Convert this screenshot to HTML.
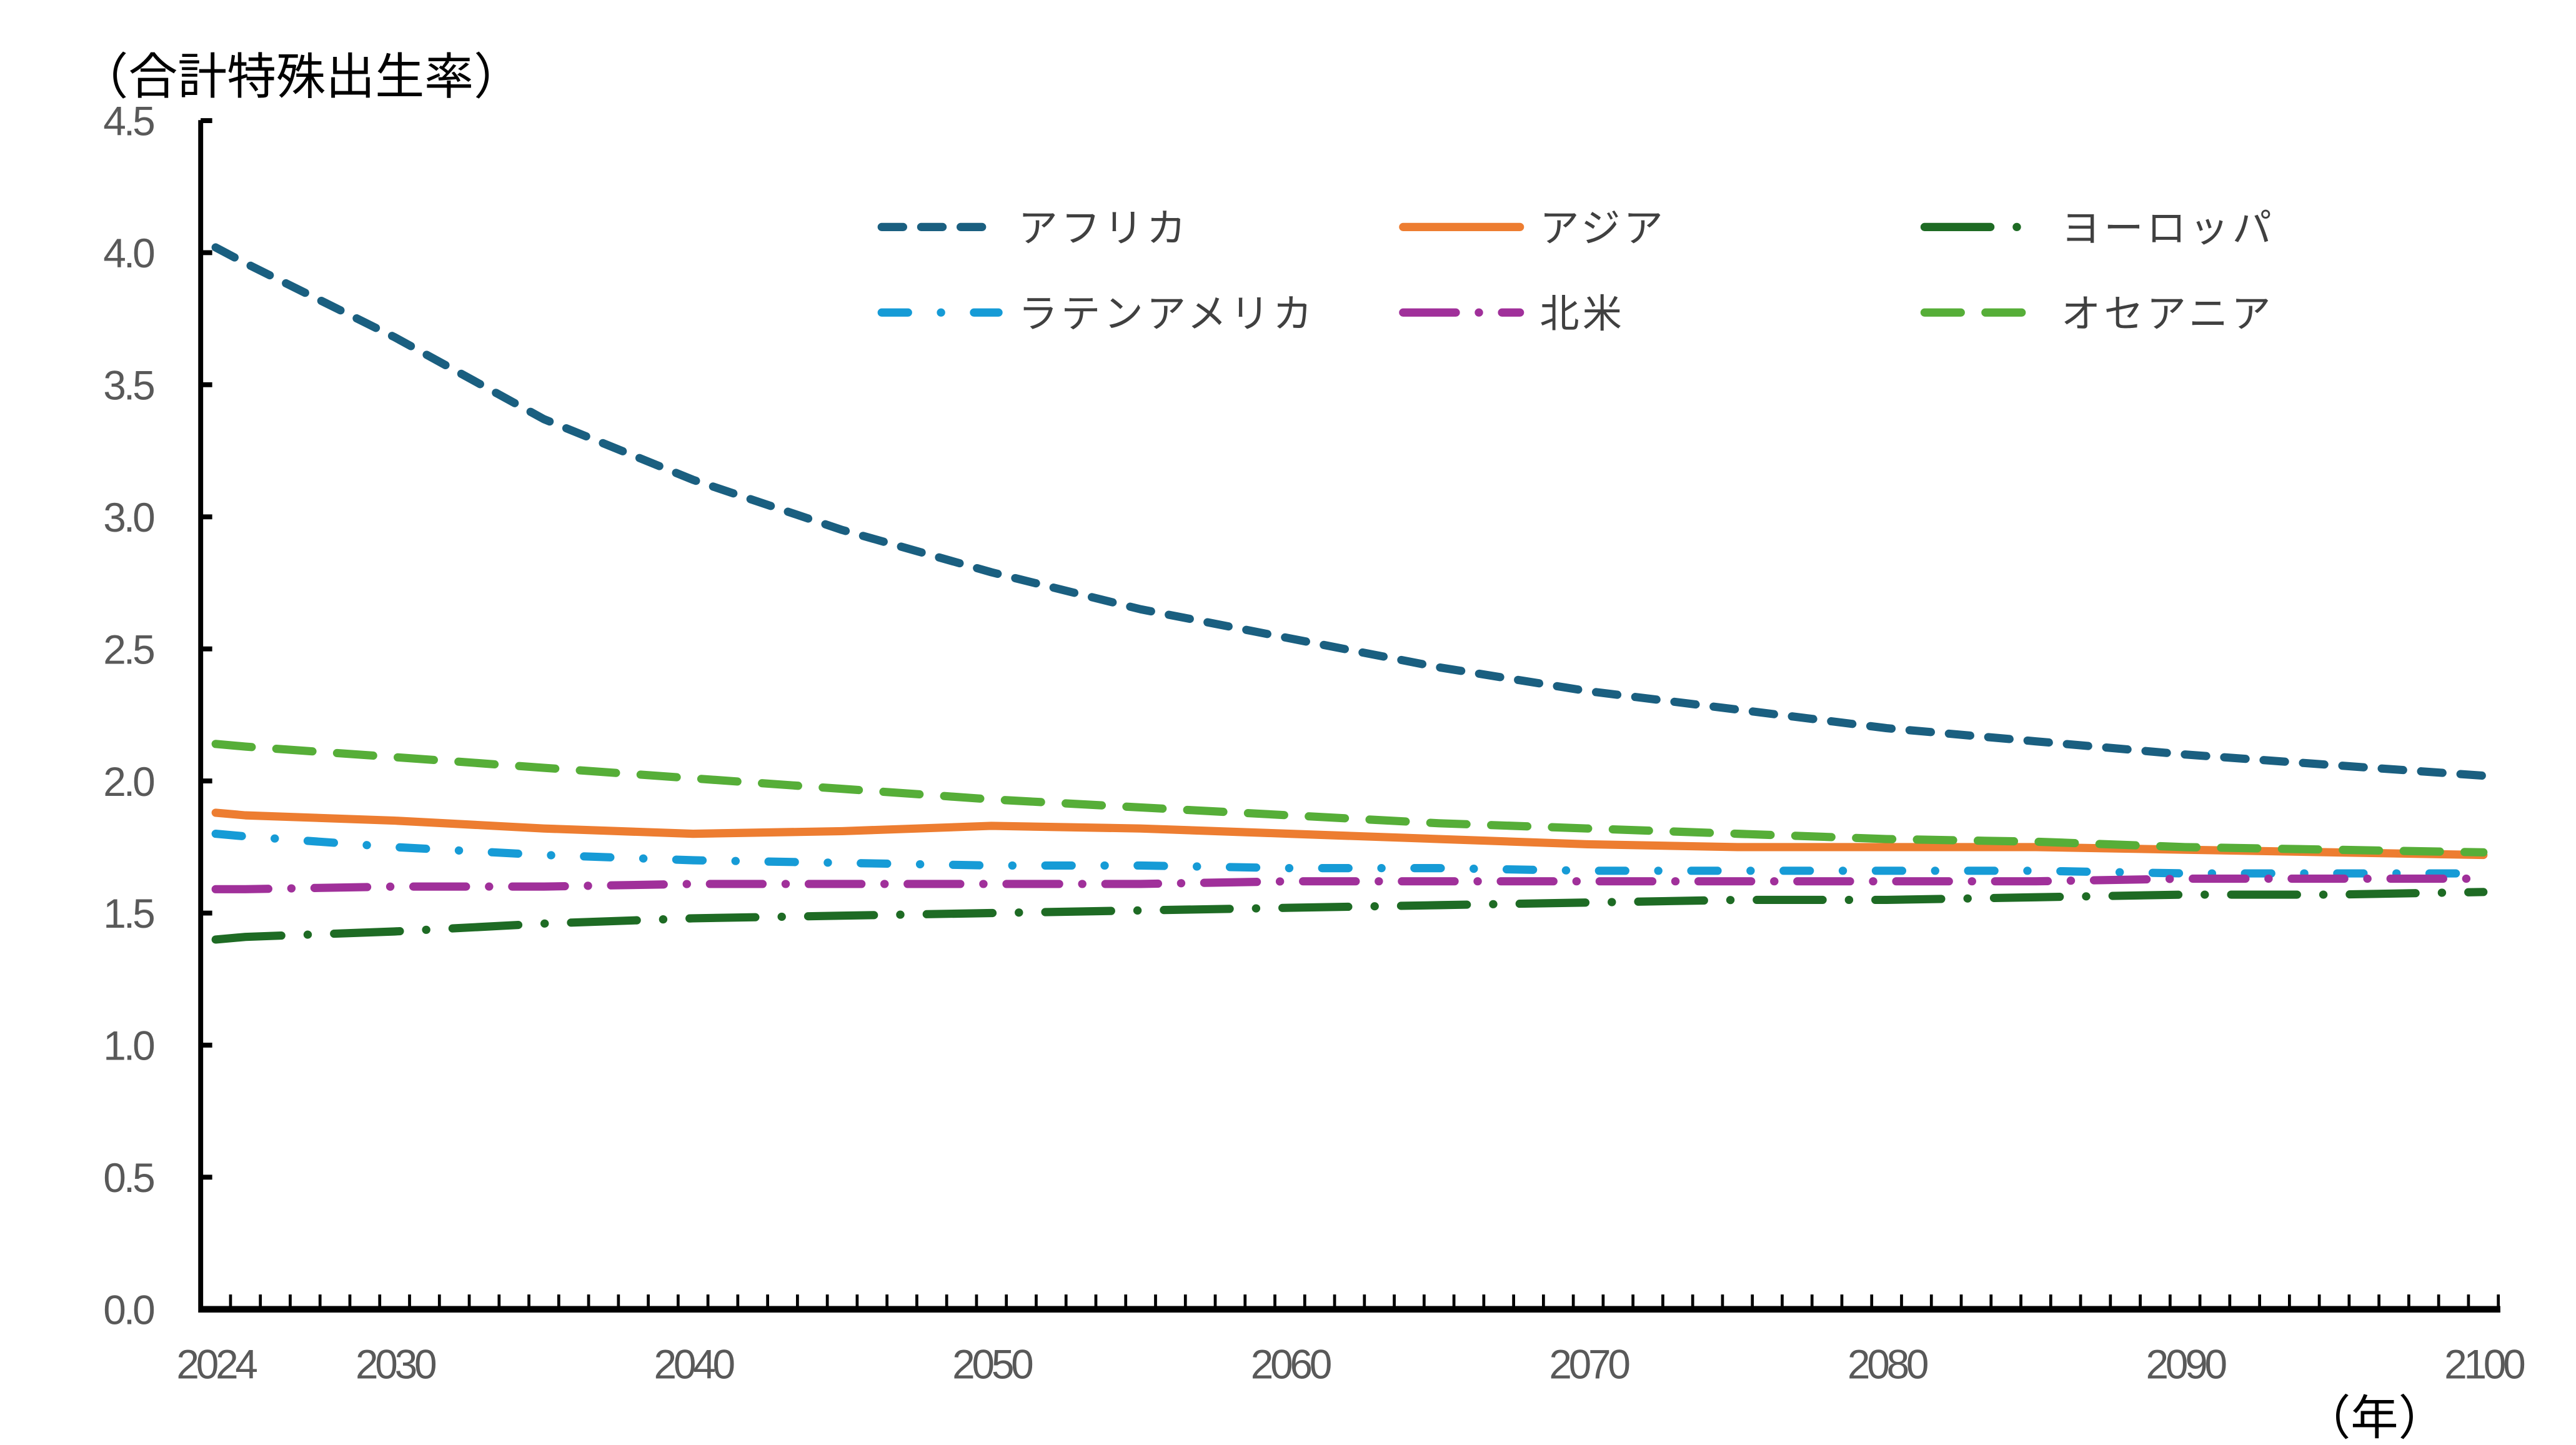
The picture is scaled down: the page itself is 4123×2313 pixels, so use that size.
<!DOCTYPE html>
<html><head><meta charset="utf-8"><style>
html,body{margin:0;padding:0;background:#fff;}
svg{display:block;font-family:"Liberation Sans","Noto Sans CJK JP",sans-serif;}
</style></head><body>
<svg id="chart" width="4123" height="2313" viewBox="0 0 1566 878.5" xmlns="http://www.w3.org/2000/svg">
<text x="48" y="57" font-size="30" fill="#000">（合計特殊出生率）</text>
<text x="1400" y="872" font-size="29" fill="#000">（年）</text>
<g id="axes"></g>
<g id="series"></g>
<g id="legend"></g>
</svg>
<script>
const years=[2024,2025,2030,2035,2040,2045,2050,2055,2060,2065,2070,2075,2080,2085,2090,2095,2100];
const africa=[4.02,3.96,3.68,3.37,3.14,2.95,2.79,2.65,2.54,2.43,2.34,2.27,2.20,2.15,2.10,2.06,2.02];
const asia=[1.88,1.87,1.85,1.82,1.80,1.81,1.83,1.82,1.80,1.78,1.76,1.75,1.75,1.75,1.74,1.73,1.72];
const europe=[1.40,1.41,1.43,1.46,1.48,1.49,1.50,1.51,1.52,1.53,1.54,1.55,1.55,1.56,1.57,1.57,1.58];
const latam=[1.80,1.79,1.75,1.72,1.70,1.69,1.68,1.68,1.67,1.67,1.66,1.66,1.66,1.66,1.65,1.65,1.65];
const northAm=[1.59,1.59,1.60,1.60,1.61,1.61,1.61,1.61,1.62,1.62,1.62,1.62,1.62,1.62,1.63,1.63,1.63];
const oceania=[2.14,2.13,2.09,2.05,2.01,1.97,1.93,1.90,1.87,1.84,1.82,1.80,1.78,1.77,1.75,1.74,1.73];
const yTicks=[0,0.5,1,1.5,2,2.5,3,3.5,4,4.5];
const xLabels=[2024,2030,2040,2050,2060,2070,2080,2090,2100];
const NS='http://www.w3.org/2000/svg';
const X0=122,YR=18.14,FIRST=2024,LAST=2100;
function xs(y){return X0+(y-FIRST+0.5)*YR;}
function ys(v){return 796-v*160.6;}
function mk(tag,attrs,parent){const e=document.createElementNS(NS,tag);for(const k in attrs)e.setAttribute(k,attrs[k]);parent.appendChild(e);return e;}
const axes=document.getElementById('axes');
for(const t of yTicks){
  const l=mk('line',{x1:X0,x2:X0+7,y1:ys(t),y2:ys(t),stroke:'#000','stroke-width':3},axes);
  
  
  const tx=mk('text',{x:93,y:ys(t)+9,'font-size':25,fill:'#595959','text-anchor':'end','letter-spacing':'-1.5'},axes);
  tx.textContent=t.toFixed(1);
  
  
}
for(let k=0;k<=LAST-FIRST+1;k++){
  const x=X0+k*YR;
  const l=mk('line',{x1:x,x2:x,y1:796,y2:787,stroke:'#000','stroke-width':1.8},axes);
  
  
}
for(const y of xLabels){
  const tx=mk('text',{x:xs(y),y:838,'font-size':25,fill:'#595959','text-anchor':'middle','letter-spacing':'-2'},axes);
  tx.textContent=y;
  
  
}
const ya=mk('line',{x1:X0,x2:X0,y1:73,y2:798,stroke:'#000','stroke-width':3},axes);


const xa=mk('line',{x1:X0,x2:1520,y1:796,y2:796,stroke:'#000','stroke-width':4},axes);



const seriesDefs=[
 {name:'アフリカ',vals:africa,color:'#1a5f80',dash:'13 11',w:5,key:'africa'},
 {name:'アジア',vals:asia,color:'#ed7d31',dash:'',w:5,key:'asia'},
 {name:'ヨーロッパ',vals:europe,color:'#1e6b24',dash:'40 16 0.1 16',w:5,key:'europe'},
 {name:'ラテンアメリカ',vals:latam,color:'#169bd6',dash:'16 20 0.1 20',w:5,key:'latin-america'},
 {name:'北米',vals:northAm,color:'#a0309a',dash:'32 14 0.1 14',w:5,key:'north-america'},
 {name:'オセアニア',vals:oceania,color:'#56ae38',dash:'22 15',w:5,key:'oceania'}
];
const sg=document.getElementById('series');
for(const s of seriesDefs){
  const d=years.map((y,i)=>(i?'L':'M')+xs(y).toFixed(1)+' '+ys(s.vals[i]).toFixed(1)).join(' ');
  const p=mk('path',{d:d,fill:'none',stroke:s.color,'stroke-width':s.w,'stroke-linecap':'round','stroke-linejoin':'round'},sg);
  if(s.dash)p.setAttribute('stroke-dasharray',s.dash);
  
  
}
const lg=document.getElementById('legend');
const pos=[[533,138],[850,138],[1167,138],[533,190],[850,190],[1167,190]];
seriesDefs.forEach((s,i)=>{
  const [x,y]=pos[i];
  const g=mk('g',{},lg);
  
  
  const l=mk('line',{x1:x+3,x2:x+74,y1:y,y2:y,stroke:s.color,'stroke-width':5,'stroke-linecap':'round'},g);
  if(s.dash)l.setAttribute('stroke-dasharray',s.dash);
  const t=mk('text',{x:x+86,y:y+9,'font-size':24,fill:'#404040','letter-spacing':'2'},g);
  t.textContent=s.name;
});
</script>
</body></html>
